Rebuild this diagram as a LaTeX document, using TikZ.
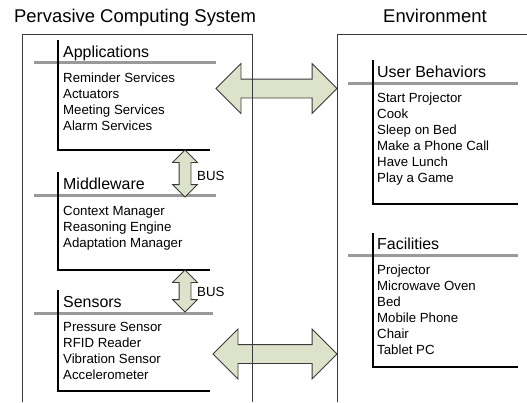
\documentclass[tikz,border=0pt]{standalone}
\usepackage{fontspec}
\setmainfont{Liberation Sans}
\usetikzlibrary{shapes.arrows,positioning,calc}
\definecolor{arrowfill}{HTML}{DDE2CB}
\definecolor{rulegray}{HTML}{9A9A9A}
\definecolor{edgegray}{HTML}{3A3A3A}

\begin{document}
\begin{tikzpicture}[x=1bp,y=-1bp]
\tikzset{ttl/.style={font=\fontsize{18.5}{22}\selectfont,anchor=base west,inner sep=0}, hd/.style={font=\fontsize{16}{19}\selectfont,anchor=base west,inner sep=0}, lst/.style={font=\fontsize{13.3}{16}\selectfont,anchor=base west,inner sep=0,align=left}, rul/.style={draw=rulegray,line width=3bp}, sec/.style={draw=black,line width=1.2bp}, frm/.style={draw=edgegray,line width=0.9bp}, big/.style={double arrow,draw=edgegray,fill=arrowfill,line width=0.8bp,double arrow head extend=15.5bp,double arrow tip angle=90,inner xsep=0,inner ysep=9bp}, bus/.style={double arrow,draw=edgegray,fill=arrowfill,line width=0.8bp,double arrow head extend=6.5bp,double arrow tip angle=90,inner xsep=0,inner ysep=5.5bp,rotate=90}}
\useasboundingbox (0,0) rectangle (527,402);
% titles
\node[ttl] (pcs) at (14,22) {Pervasive Computing System};
\node[ttl] (env) at (383,22) {Environment};
% anchor points of the layers
\coordinate (appE) at (216,88.5);
\coordinate (senE) at (213,354);
\coordinate (ubW) at (337,88.5);
\coordinate (faW) at (337,354);
\coordinate (appS) at (185,150);
\coordinate (midN) at (185,197);
\coordinate (midS) at (185,270);
\coordinate (senN) at (185,312);
% arrows between system and environment
\node[big,minimum height=121bp] (a1) at ($(appE)!0.5!(ubW)$) {};
\node[big,minimum height=124bp] (a2) at ($(senE)!0.5!(faW)$) {};
% frames
\draw[frm] (22,402) |- (252,34) -- (252,402);
\draw[frm] (337,402) |- (527,34);
% Applications
\node[hd] (app) at (63,57) {Applications};
\node[lst] (appl) at (63,130) {Reminder Services\\Actuators\\Meeting Services\\Alarm Services};
\draw[rul] (34,62) -- (216,62);
\draw[sec] (58,40) |- (210,150);
% Middleware
\node[hd] (mid) at (63,189) {Middleware};
\node[lst] (midl) at (63,247) {Context Manager\\Reasoning Engine\\Adaptation Manager};
\draw[rul] (34,195) -- (216,195);
\draw[sec] (58,172) |- (210,270);
% Sensors
\node[hd] (sen) at (63,307) {Sensors};
\node[lst] (senl) at (63,379) {Pressure Sensor\\RFID Reader\\Vibration Sensor\\Accelerometer};
\draw[rul] (34,313) -- (213,313);
\draw[sec] (58,290) |- (210,391);
% bus links
\node[bus,minimum height=47bp] (b1) at ($(appS)!0.5!(midN)$) {};
\node[bus,minimum height=42bp] (b2) at ($(midS)!0.5!(senN)$) {};
\node[lst,anchor=west] (bl1) at (197,176) {BUS};
\node[lst,anchor=west] (bl2) at (197,292) {BUS};
% User Behaviors
\node[hd] (ub) at (377,77) {User Behaviors};
\node[lst] (ubl) at (377,182) {Start Projector\\Cook\\Sleep on Bed\\Make a Phone Call\\Have Lunch\\Play a Game};
\draw[rul] (348,83) -- (518,83);
\draw[sec] (373,60) |- (518,204);
% Facilities
\node[hd] (fa) at (377,249) {Facilities};
\node[lst] (fal) at (377,354) {Projector\\Microwave Oven\\Bed\\Mobile Phone\\Chair\\Tablet PC};
\draw[rul] (348,255) -- (518,255);
\draw[sec] (373,233) |- (518,367);
\end{tikzpicture}
\end{document}
